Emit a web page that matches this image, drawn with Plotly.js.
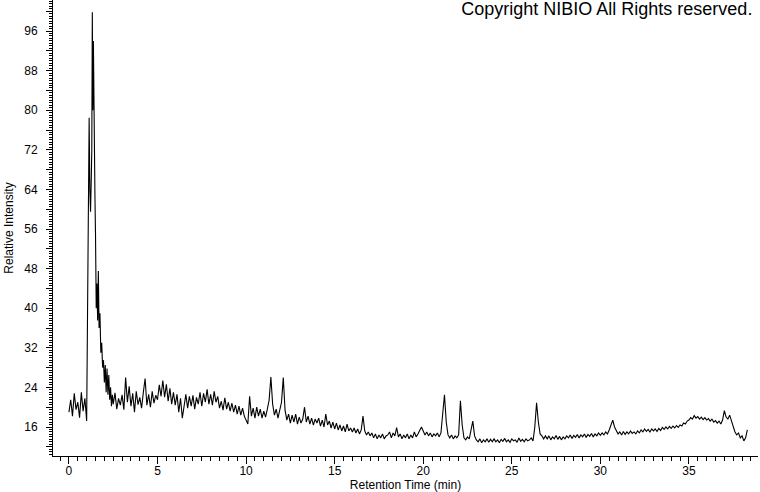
<!DOCTYPE html>
<html>
<head>
<meta charset="utf-8">
<script src="https://cdn.plot.ly/plotly-3.0.1.min.js"></script>
<style>
  html, body { margin: 0; padding: 0; background: #fff; }
  #chart { width: 760px; height: 492px; }
</style>
</head>
<body>
<div id="chart"></div>
<script>
// ---- data ----
// early baseline, 0.0 .. 1.0 min, sampled every 0.1 min
const earlyStart = 0.0;
const earlyStep = 0.1;
const earlyIntensity = [19.0, 21.5, 18.2, 22.8, 19.5, 21.0, 17.9, 23.0, 19.2, 21.8, 17.2];

// main peak region (finer sampling)
const peakRt = [1.06, 1.10, 1.14, 1.18, 1.22, 1.26, 1.29, 1.32, 1.35, 1.38, 1.41, 1.44, 1.47, 1.50,
                1.54, 1.58, 1.62, 1.66, 1.70, 1.75, 1.80, 1.85, 1.90, 1.95, 2.00, 2.05, 2.10, 2.15,
                2.20, 2.25, 2.30, 2.35, 2.40, 2.45];
const peakIntensity = [40, 68, 78.5, 64, 59.5, 66, 72, 99.8, 80, 94, 76, 79, 62, 55,
                       40, 45, 37.5, 47.5, 36, 39, 31, 33, 28, 29.5, 25, 28.5, 23, 27.8,
                       22.5, 26.5, 21.5, 24, 20.2, 22.5];

// rest of the run, 2.5 .. 38.3 min, sampled every 0.1 min
const lateStart = 2.5;
const lateStep = 0.1;
const lateIntensity = [
  20.6, 22.9, 19.6, 21.8, 20.4,
  22.5, 19.5, 26.0, 21.0, 24.2, 20.2, 22.8, 19.0, 23.2, 20.5,
  22.0, 19.8, 23.0, 25.8, 20.4, 22.6, 20.0, 23.2, 20.8, 22.4,
  21.5, 24.5, 22.2, 25.4, 22.0, 24.6, 21.2, 23.8, 20.6, 23.0,
  20.4, 22.6, 19.0, 21.8, 17.8, 20.8, 22.6, 19.8, 22.2, 20.2,
  22.4, 19.6, 22.0, 20.6, 23.0, 20.2, 22.8, 21.0, 23.6, 20.6,
  22.6, 20.4, 23.2, 21.0, 22.2, 19.8, 21.2, 19.4, 21.9, 19.6,
  21.0, 19.2, 20.8, 19.0, 20.4, 18.6, 20.2, 18.4, 19.8, 18.2,
  17.4, 16.6, 22.2, 18.2, 19.8, 17.8, 20.0, 18.2, 19.6, 17.8,
  19.2, 18.0, 19.6, 21.4, 26.1, 20.6, 18.4, 19.6, 17.8, 19.2,
  21.0, 26.0, 19.4, 17.4, 18.6, 16.8, 18.4, 17.0, 18.6, 16.6,
  18.0, 16.8, 17.6, 20.0, 17.0, 18.2, 16.6, 17.8, 16.4, 17.6,
  16.8, 17.8, 16.2, 17.4, 16.0, 18.6, 16.4, 17.2, 15.8, 17.0,
  15.6, 16.8, 15.4, 16.4, 15.2, 16.2, 15.0, 16.6, 15.2, 15.8,
  15.0, 15.8, 14.8, 15.6, 14.6, 15.4, 18.2, 15.2, 14.4, 15.0,
  14.2, 14.8, 13.8, 14.6, 13.6, 14.4, 13.8, 14.6, 13.6, 14.2,
  14.4, 15.0, 13.8, 14.8, 14.2, 15.9, 14.0, 14.6, 13.6, 14.4,
  13.8, 14.6, 13.6, 14.4, 13.8, 15.0, 14.0, 14.6, 15.4, 16.0,
  15.2, 14.4, 15.0, 14.2, 14.8, 14.0, 14.6, 14.2, 14.8, 14.0,
  14.8, 18.8, 22.5, 17.0, 14.4, 13.8, 14.4, 13.6, 14.2, 13.8,
  14.4, 21.3, 16.4, 13.8, 13.4, 14.0, 13.6, 15.4, 17.2, 14.2,
  13.4, 13.0, 13.6, 12.8, 13.4, 13.0, 13.6, 12.9, 13.5, 13.0,
  13.6, 13.0, 13.4, 12.8, 13.5, 13.1, 13.7, 13.0, 13.4, 12.9,
  13.6, 13.2, 13.4, 12.9, 13.8, 13.1, 13.5, 13.0, 13.6, 13.2,
  13.4, 13.8, 13.2, 16.0, 20.9, 17.0, 14.6, 14.2, 13.6, 14.2,
  13.6, 14.2, 13.4, 14.0, 13.6, 14.3, 13.5, 14.1, 13.4, 14.0,
  13.6, 14.2, 13.8, 14.4, 13.7, 14.3, 13.9, 14.5, 13.8, 14.4,
  14.0, 14.6, 13.9, 14.5, 14.1, 14.7, 14.0, 14.6, 14.2, 14.8,
  14.3, 14.8, 14.4, 15.0, 14.6, 15.4, 16.6, 17.4, 16.0, 15.2,
  14.6, 15.0, 14.4, 15.1, 14.5, 15.0, 14.6, 15.2, 14.7, 15.0,
  14.6, 15.2, 14.8, 15.4, 15.0, 15.6, 15.1, 15.5, 15.0, 15.6,
  15.2, 15.6, 15.1, 15.7, 15.3, 15.9, 15.5, 16.0, 15.6, 16.1,
  15.7, 16.2, 15.8, 16.3, 15.9, 16.4, 16.2, 16.8, 16.6, 17.2,
  17.4, 17.9, 17.6, 18.3, 17.8, 18.1, 17.6, 18.0, 17.5, 17.9,
  17.4, 17.7, 17.2, 17.6, 17.0, 17.3, 16.8, 17.2, 16.6, 17.4,
  19.3, 18.0, 17.6, 18.4, 17.2, 16.0, 15.0, 14.4, 14.8, 13.8,
  14.2, 13.2, 13.8, 15.4
];

// axis ticks
const yTickVals = [12, 16, 20, 24, 28, 32, 36, 40, 44, 48, 52, 56, 60, 64, 68, 72, 76, 80, 84, 88, 92, 96, 100];
const yTickText = ['', '16', '', '24', '', '32', '', '40', '', '48', '', '56', '', '64', '', '72', '', '80', '', '88', '', '96', ''];
const xTickVals = [0, 5, 10, 15, 20, 25, 30, 35];
const xTickText = ['0', '5', '10', '15', '20', '25', '30', '35'];

// ---- assemble the trace ----
const rt = [];
const intensity = [];
earlyIntensity.forEach((v, i) => { rt.push(+(earlyStart + i * earlyStep).toFixed(2)); intensity.push(v); });
peakIntensity.forEach((v, i) => { rt.push(peakRt[i]); intensity.push(v); });
lateIntensity.forEach((v, i) => { rt.push(+(lateStart + i * lateStep).toFixed(2)); intensity.push(v); });

const font = { family: 'Liberation Sans, Arial, sans-serif', size: 12, color: '#000' };

Plotly.newPlot('chart', [{
  x: rt,
  y: intensity,
  type: 'scatter',
  mode: 'lines',
  line: { color: '#000', width: 1.1 },
  hoverinfo: 'skip'
}], {
  width: 760,
  height: 492,
  margin: { l: 53, r: 2, t: 0, b: 36 },
  paper_bgcolor: '#fff',
  plot_bgcolor: '#fff',
  font: font,
  showlegend: false,
  title: {
    text: 'Copyright NIBIO All Rights reserved.',
    font: { family: 'Liberation Sans, Arial, sans-serif', size: 18, color: '#000' },
    xref: 'container', x: 0.99, xanchor: 'right',
    yref: 'container', y: 0.995, yanchor: 'top'
  },
  xaxis: {
    range: [-0.9, 38.9],
    showgrid: false, zeroline: false,
    showline: true, linecolor: '#000', linewidth: 1,
    ticks: 'outside', ticklen: 7, tickwidth: 1, tickcolor: '#000',
    tickmode: 'array', tickvals: xTickVals, ticktext: xTickText,
    tickfont: font,
    ticklabelstandoff: -3,
    minor: { tickmode: 'linear', tick0: 0, dtick: 0.5, ticks: 'outside', ticklen: 4, tickcolor: '#000', showgrid: false },
    title: { text: 'Retention Time (min)', font: font, standoff: 4 }
  },
  yaxis: {
    range: [10.14, 102.27],
    showgrid: false, zeroline: false,
    showline: true, linecolor: '#000', linewidth: 1,
    ticks: 'outside', ticklen: 6, tickwidth: 1, tickcolor: '#000',
    tickmode: 'array', tickvals: yTickVals, ticktext: yTickText,
    tickfont: font,
    ticklabelstandoff: 6,
    minor: { tickmode: 'linear', tick0: 0, dtick: 0.5, ticks: 'outside', ticklen: 3, tickcolor: '#000', showgrid: false },
    title: { text: 'Relative Intensity', font: font, standoff: 8 }
  }
}, { displayModeBar: false, staticPlot: true });
</script>
</body>
</html>
